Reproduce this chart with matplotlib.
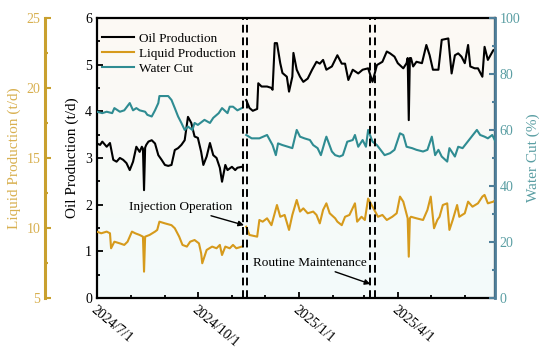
import numpy as np
import pandas as pd
import matplotlib
matplotlib.use('Agg')
import matplotlib.pyplot as plt
import matplotlib.dates as mdates
from matplotlib.ticker import MultipleLocator, FuncFormatter

plt.rcParams['font.family'] = ['Liberation Serif', 'DejaVu Serif']

start_date = '2024-07-01'
injection_days = [133, 137]
maintenance_days = [249, 253]

# days since start_date, before / after the injection operation
oil_days_1 = [0, 3, 5, 9, 12, 15, 18, 21, 24, 27, 30, 33, 36, 39, 41, 42, 43, 44, 45, 47, 50, 53, 56,
              59, 62, 65, 68, 71, 74, 77, 80, 83, 86, 89, 92, 95, 97, 100, 103, 106, 109, 112, 114,
              117, 119, 123, 126, 128, 132]
oil_vals_1 = [3.31, 3.28, 3.35, 3.24, 3.32, 2.96, 2.92, 3.0, 2.96, 2.89, 2.74, 2.92, 3.24, 3.13, 3.24,
              3.2, 2.31, 3.22, 3.28, 3.35, 3.38, 3.31, 3.06, 2.96, 2.85, 2.83, 2.85, 3.17, 3.21, 3.28,
              3.38, 3.88, 3.75, 3.46, 3.43, 3.13, 2.85, 3.03, 3.32, 3.06, 3.0, 2.79, 2.49, 2.85, 2.74,
              2.81, 2.74, 2.79, 2.81]
oil_days_2 = [136, 139, 142, 146, 147, 150, 155, 159, 160, 162, 164, 167, 169, 173, 175, 178, 179, 182,
              185, 188, 192, 196, 200, 203, 206, 209, 214, 219, 223, 226, 229, 233, 238, 242, 247, 251,
              255, 260, 264, 267, 271, 274, 279, 282, 283, 284, 285, 286, 288, 291, 296, 300, 303, 306,
              311, 314, 320, 321, 323, 326, 329, 332, 335, 338, 340, 344, 347, 351, 353, 356, 361, 363]
oil_vals_2 = [4.24, 4.07, 4.01, 4.05, 4.6, 4.53, 4.53, 4.5, 4.46, 5.46, 5.46, 5.03, 4.82, 4.74, 4.42,
              4.74, 5.25, 4.89, 4.74, 4.63, 4.7, 4.89, 5.06, 5.02, 5.1, 4.89, 4.96, 5.2, 5.02, 5.02, 4.67,
              4.89, 4.81, 4.89, 4.92, 4.63, 4.99, 5.06, 5.28, 5.24, 5.17, 5.03, 4.92, 5.03, 5.14, 3.81,
              5.14, 5.14, 4.96, 5.06, 5.03, 5.42, 5.2, 4.89, 4.89, 5.53, 5.56, 5.31, 4.81, 5.2, 5.24,
              5.17, 5.03, 5.42, 4.96, 4.92, 4.92, 4.74, 5.38, 5.1, 5.31, 5.31]

liq_days_1 = [0, 4, 9, 12, 13, 16, 21, 25, 28, 32, 35, 39, 42, 43, 44, 48, 53, 55, 57, 62, 68, 71, 75,
              78, 82, 85, 89, 93, 95, 96, 100, 105, 109, 112, 114, 117, 121, 124, 127, 132]
liq_vals_1 = [9.74, 9.62, 9.74, 9.62, 8.55, 9.02, 8.9, 8.79, 9.02, 9.74, 9.62, 9.5, 9.38, 6.88, 9.38,
              9.5, 9.74, 9.86, 10.45, 10.33, 10.2, 9.98, 9.38, 8.79, 8.67, 9.02, 9.14, 8.9, 8.19, 7.48,
              8.43, 8.67, 8.55, 8.79, 8.07, 8.67, 8.55, 8.79, 8.55, 8.67]
liq_days_2 = [136, 139, 146, 148, 151, 155, 159, 164, 167, 171, 175, 178, 182, 185, 188, 192, 197, 200,
              203, 206, 209, 212, 217, 219, 223, 226, 230, 235, 237, 241, 244, 247, 251, 256, 260, 264,
              269, 273, 276, 279, 281, 283, 284, 285, 286, 291, 297, 301, 304, 307, 310, 312, 315, 319,
              321, 324, 328, 330, 335, 338, 342, 347, 351, 353, 356, 361, 363]
liq_vals_2 = [10.09, 9.5, 9.38, 10.57, 10.45, 10.69, 10.2, 11.64, 10.8, 10.93, 9.86, 10.93, 12.0, 11.17,
              11.4, 11.05, 11.17, 10.93, 10.33, 11.29, 11.76, 11.05, 10.69, 10.45, 10.2, 10.8, 10.93,
              11.76, 10.45, 10.8, 10.57, 12.1, 11.52, 10.8, 10.93, 10.57, 10.8, 11.05, 12.24, 11.88,
              11.29, 10.69, 7.95, 10.69, 10.8, 10.69, 10.57, 11.29, 12.24, 9.98, 10.57, 10.8, 11.64,
              11.76, 9.86, 10.57, 11.64, 10.8, 11.05, 11.88, 11.52, 11.76, 12.24, 12.36, 11.76, 11.88,
              12.0]

wc_days_1 = [0, 5, 9, 14, 16, 21, 25, 30, 33, 36, 39, 44, 46, 50, 53, 56, 57, 65, 68, 71, 74, 77, 80,
             83, 87, 89, 92, 96, 98, 103, 106, 111, 114, 119, 121, 124, 128, 132]
wc_vals_1 = [66.5, 66, 66.5, 66, 67.8, 66.5, 67, 69.6, 67, 67.8, 67, 66.5, 65.4, 64.8, 67, 69.6, 72.1,
             72.1, 70.7, 67.8, 64.8, 62.5, 60, 61.2, 60, 62.5, 61.8, 63, 63.6, 62.5, 64.3, 66, 67.8,
             66, 68.3, 68.3, 67, 67.8]
wc_days_2 = [136, 141, 148, 155, 160, 163, 165, 169, 174, 178, 182, 185, 189, 194, 197, 201, 204, 208,
             209, 214, 217, 221, 224, 228, 233, 235, 238, 242, 245, 247, 251, 255, 262, 267, 271, 276,
             279, 282, 287, 291, 297, 301, 305, 308, 311, 314, 319, 321, 326, 329, 333, 340, 346, 349,
             353, 356, 360, 363]
wc_vals_2 = [58.2, 57, 57, 58.2, 54.6, 51, 55.2, 54.6, 54, 53.5, 60, 57.6, 57, 56.4, 54.6, 53.5, 51,
             56.4, 57.6, 52.3, 51, 50.5, 51, 55.8, 56.4, 58.2, 54, 56.4, 54, 60, 55.8, 54.6, 51, 51.7,
             52.9, 58.8, 58.2, 54, 53.5, 52.9, 52.3, 52.9, 57.6, 51, 52.9, 50.5, 48.7, 53.5, 50.5, 54,
             53.5, 57, 60, 58.2, 57.6, 57, 58.2, 55.8]


def to_series(days_a, vals_a, days_b, vals_b):
    t0 = pd.Timestamp(start_date)
    days = list(days_a) + [np.nan] + list(days_b)
    vals = list(vals_a) + [np.nan] + list(vals_b)
    days = np.array(days, dtype=float)
    dates = [t0 + pd.Timedelta(days=d) if not np.isnan(d) else t0 + pd.Timedelta(days=(days_a[-1] + days_b[0]) / 2)
             for d in days]
    return dates, np.array(vals, dtype=float)


oil_t, oil_y = to_series(oil_days_1, oil_vals_1, oil_days_2, oil_vals_2)
liq_t, liq_y = to_series(liq_days_1, liq_vals_1, liq_days_2, liq_vals_2)
wc_t, wc_y = to_series(wc_days_1, wc_vals_1, wc_days_2, wc_vals_2)

c_oil = 'black'
c_liq = '#d69a1c'
c_liq_axis = '#c9a02e'
c_liq_text = '#d8b050'
c_wc = '#2f8c92'
c_wc_axis = '#4f7f9a'
c_wc_text = '#5a9ea3'

fig = plt.figure(figsize=(5.5, 3.51), dpi=100)
ax = fig.add_axes([0.176, 0.151, 0.724, 0.798])

# soft background gradient
grad = np.linspace(0, 1, 256).reshape(-1, 1)
from matplotlib.colors import LinearSegmentedColormap
bg = LinearSegmentedColormap.from_list('bg', ['#f3fbfb', '#fdf9f4'])
ax.imshow(grad, aspect='auto', cmap=bg, origin='lower', extent=[0, 1, 0, 1],
          transform=ax.transAxes, zorder=0)

t0 = pd.Timestamp(start_date)
ax.set_xlim(t0, t0 + pd.Timedelta(days=362.5))
ax.set_ylim(0, 6)
ax.plot(oil_t, oil_y, color=c_oil, lw=1.5, zorder=3)
ax.set_ylabel('Oil Production (t/d)', fontsize=11, labelpad=4)
ax.yaxis.set_major_locator(MultipleLocator(1))
ax.yaxis.set_minor_locator(MultipleLocator(0.5))

ax.xaxis.set_major_locator(mdates.MonthLocator(bymonth=[1, 4, 7, 10]))
ax.xaxis.set_minor_locator(mdates.MonthLocator())
ax.xaxis.set_major_formatter(FuncFormatter(
    lambda v, p: (lambda d: f"{d.year}/{d.month}/{d.day}")(mdates.num2date(v))))
ax.tick_params(axis='both', which='both', direction='in', width=1.3, labelsize=10)
ax.tick_params(which='major', length=4)
ax.tick_params(which='minor', length=2.5)
ax.tick_params(axis='y', which='both', right=False)
for lab in ax.get_xticklabels():
    lab.set_rotation(-40)
    lab.set_ha('left')
    lab.set_va('top')
    lab.set_rotation_mode('anchor')
for s in ax.spines.values():
    s.set_linewidth(1.6)

# liquid production, offset left axis
ax_liq = ax.twinx()
ax_liq.plot(liq_t, liq_y, color=c_liq, lw=1.5, zorder=3)
ax_liq.set_ylim(5, 25)
ax_liq.spines['left'].set_position(('axes', -0.13))
ax_liq.spines['left'].set_visible(True)
ax_liq.spines['left'].set_color(c_liq_axis)
ax_liq.spines['left'].set_linewidth(2.2)
for k in ['right', 'top', 'bottom']:
    ax_liq.spines[k].set_visible(False)
ax_liq.yaxis.set_ticks_position('left')
ax_liq.yaxis.set_label_position('left')
ax_liq.yaxis.set_major_locator(MultipleLocator(5))
ax_liq.yaxis.set_minor_locator(MultipleLocator(2.5))
ax_liq.tick_params(axis='y', which='both', direction='in', colors=c_liq_axis, labelcolor=c_liq_text,
                   labelsize=10, width=1.5)
ax_liq.tick_params(axis='y', which='major', length=4)
ax_liq.tick_params(axis='y', which='minor', length=2.5)
ax_liq.set_ylabel('Liquid Production (t/d)', fontsize=11, color=c_liq_text, labelpad=4)

# water cut, right axis
ax_wc = ax.twinx()
ax_wc.plot(wc_t, wc_y, color=c_wc, lw=1.5, zorder=3)
ax_wc.set_ylim(0, 100)
ax_wc.yaxis.set_major_locator(MultipleLocator(20))
ax_wc.yaxis.set_minor_locator(MultipleLocator(10))
ax_wc.spines['right'].set_color(c_wc_axis)
ax_wc.spines['right'].set_linewidth(2.0)
for k in ['left', 'top', 'bottom']:
    ax_wc.spines[k].set_visible(False)
ax_wc.tick_params(axis='y', which='both', direction='in', colors=c_wc_axis, labelcolor=c_wc_text,
                  labelsize=10, width=1.5)
ax_wc.tick_params(axis='y', which='major', length=4)
ax_wc.tick_params(axis='y', which='minor', length=2.5)
ax_wc.set_ylabel('Water Cut (%)', fontsize=11, color=c_wc_text, labelpad=4)

# event markers
for d in injection_days + maintenance_days:
    ax_wc.axvline(t0 + pd.Timedelta(days=d), color='black', lw=1.4, ls=(0, (4, 2.5)), zorder=4)

ax_wc.annotate('Injection Operation', xy=(t0 + pd.Timedelta(days=134), 26),
               xytext=(t0 + pd.Timedelta(days=76), 32.5), fontsize=9.5, ha='center', va='center',
               arrowprops=dict(arrowstyle='-|>', color='black', lw=1, shrinkA=0, shrinkB=0,
                               mutation_scale=8))
ax_wc.annotate('Routine Maintenance', xy=(t0 + pd.Timedelta(days=249), 5),
               xytext=(t0 + pd.Timedelta(days=194), 12.5), fontsize=9.5, ha='center', va='center',
               arrowprops=dict(arrowstyle='-|>', color='black', lw=1, shrinkA=0, shrinkB=0,
                               mutation_scale=8))

handles = [plt.Line2D([], [], color=c_oil, lw=1.5),
           plt.Line2D([], [], color=c_liq, lw=1.5),
           plt.Line2D([], [], color=c_wc, lw=1.5)]
ax_wc.legend(handles, ['Oil Production', 'Liquid Production', 'Water Cut'], loc='upper left',
             frameon=False, fontsize=9.5, handlelength=2.4, handletextpad=0.4, labelspacing=0.2,
             borderaxespad=0.3, bbox_to_anchor=(-0.01, 0.98))

fig.savefig('out.png', dpi=100)
